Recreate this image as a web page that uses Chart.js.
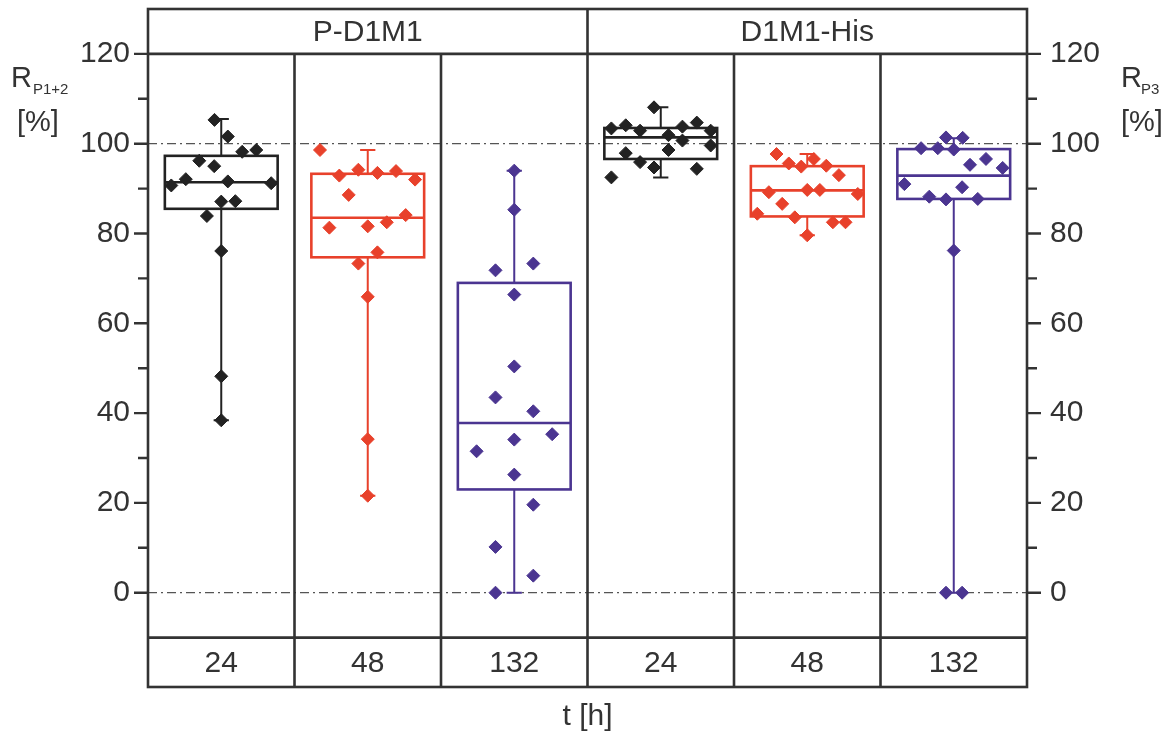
<!DOCTYPE html>
<html lang="en">
<head>
    <meta charset="UTF-8" />
    <title>Recovery box plots</title>
    <script src="https://cdn.jsdelivr.net/npm/chart.js@4.4.1/dist/chart.umd.min.js"></script>
    <style>
        body { margin: 0; background: #fff; }
        #wrap { width: 1174px; height: 738px; position: relative; }
    </style>
</head>
<body>
    <div id="wrap"><canvas id="chart"></canvas></div>

    <script>
        // === Data ===
        const groups = ["P-D1M1", "D1M1-His"];
        const categories = ["24", "48", "132", "24", "48", "132"];
        const yTicks = [0, 10, 20, 30, 40, 50, 60, 70, 80, 90, 100, 110, 120];

        // box statistics per column
        const whiskLo = [38.4, 21.6, 0, 92.5, 79.6, 0];
        const q1 = [85.5, 74.7, 23.0, 96.6, 83.8, 87.7];
        const median = [91.4, 83.5, 37.8, 101.4, 89.6, 92.9];
        const q3 = [97.3, 93.3, 69.0, 103.5, 95.0, 98.8];
        const whiskHi = [105.5, 98.6, 94.0, 108.1, 97.7, 101.2];

        // single measurements (y) and their horizontal jitter (x offset within column)
        const pd24 = [105.3, 101.6, 98.2, 98.6, 96.2, 95.0, 92.1, 90.7, 91.6, 91.2, 87.1, 87.2, 83.9, 76.1, 48.2, 38.4];
        const pd24j = [-0.046, 0.045, 0.143, 0.239, -0.150, -0.048, -0.242, -0.341, 0.045, 0.341, 0, 0.096, -0.098, 0, 0, 0];
        const pd48 = [98.6, 92.9, 94.2, 93.5, 93.9, 92.0, 88.6, 81.3, 81.6, 82.5, 84.1, 75.8, 73.3, 65.9, 34.2, 21.6];
        const pd48j = [-0.326, -0.194, -0.064, 0.066, 0.193, 0.323, -0.130, -0.262, 0, 0.130, 0.259, 0.066, -0.064, 0, 0, 0];
        const pd132 = [94.0, 85.3, 71.8, 73.3, 66.4, 50.4, 43.5, 40.4, 35.3, 34.1, 31.5, 26.3, 19.6, 10.2, 3.8, 0];
        const pd132j = [0, 0, -0.128, 0.130, 0, 0, -0.128, 0.130, 0.259, 0, -0.257, 0, 0.130, -0.128, 0.130, -0.128];
        const dh24 = [103.4, 104.1, 102.9, 108.1, 103.8, 104.7, 102.9, 101.9, 100.7, 99.6, 97.9, 98.6, 95.9, 94.7, 94.4, 92.5];
        const dh24j = [-0.337, -0.239, -0.141, -0.046, 0.148, 0.246, 0.341, 0.053, 0.148, 0.341, -0.239, 0.053, -0.141, -0.046, 0.246, -0.337];
        const dh48 = [97.7, 96.6, 95.6, 94.9, 95.1, 93.0, 89.2, 89.7, 89.7, 88.8, 86.6, 84.4, 83.6, 82.5, 82.5, 79.6];
        const dh48j = [-0.210, 0.045, -0.126, -0.041, 0.130, 0.216, -0.262, 0, 0.086, 0.345, -0.171, -0.341, -0.085, 0.175, 0.261, 0];
        const dh132 = [101.4, 101.3, 99.0, 99.0, 98.7, 96.6, 95.3, 94.6, 91.0, 90.3, 88.2, 87.6, 87.7, 76.2, 0, 0];
        const dh132j = [-0.053, 0.061, -0.223, -0.109, 0, 0.220, 0.111, 0.334, -0.337, 0.057, -0.167, -0.053, 0.164, 0, -0.053, 0.057];

        const series = [[pd24, pd24j], [pd48, pd48j], [pd132, pd132j], [dh24, dh24j], [dh48, dh48j], [dh132, dh132j]];
        const colors = ["#222222", "#e8412b", "#4b3591", "#222222", "#e8412b", "#4b3591"];

        const FONT = "'Liberation Sans', Arial, Helvetica, sans-serif";
        const INK = "#333333";

        // === Box plot + frame drawing ===
        const boxPlugin = {
            id: "boxes",
            beforeDatasetsDraw(chart) {
                const { ctx, chartArea: a, scales: { x, y } } = chart;
                ctx.save();
                // reference lines at 0 and 100
                ctx.strokeStyle = "#555";
                ctx.lineWidth = 1.3;
                ctx.setLineDash([9, 4, 2, 4]);
                [0, 100].forEach((v) => {
                    const py = y.getPixelForValue(v);
                    ctx.beginPath();
                    ctx.moveTo(a.left, py);
                    ctx.lineTo(a.right, py);
                    ctx.stroke();
                });
                ctx.setLineDash([]);

                categories.forEach((c, i) => {
                    const cx = x.getPixelForValue(i + 0.5);
                    const xl = x.getPixelForValue(i + 0.5 - 0.385);
                    const xr = x.getPixelForValue(i + 0.5 + 0.385);
                    const cap = x.getPixelForValue(i + 0.5 + 0.052) - cx;
                    ctx.strokeStyle = colors[i];
                    ctx.lineWidth = 2;
                    const pLo = y.getPixelForValue(whiskLo[i]);
                    const pHi = y.getPixelForValue(whiskHi[i]);
                    const p1 = y.getPixelForValue(q1[i]);
                    const p3 = y.getPixelForValue(q3[i]);
                    const pm = y.getPixelForValue(median[i]);
                    ctx.beginPath();
                    ctx.moveTo(cx, pHi); ctx.lineTo(cx, p3);
                    ctx.moveTo(cx, p1); ctx.lineTo(cx, pLo);
                    ctx.moveTo(cx - cap, pHi); ctx.lineTo(cx + cap, pHi);
                    ctx.moveTo(cx - cap, pLo); ctx.lineTo(cx + cap, pLo);
                    ctx.stroke();
                    ctx.lineWidth = 2.6;
                    ctx.strokeRect(xl, p3, xr - xl, p1 - p3);
                    ctx.beginPath();
                    ctx.moveTo(xl, pm); ctx.lineTo(xr, pm);
                    ctx.stroke();
                });
                ctx.restore();
            },
            afterDraw(chart) {
                const { ctx, chartArea: a, scales: { x, y } } = chart;
                ctx.save();
                ctx.strokeStyle = INK;
                ctx.lineWidth = 2.6;
                const yTop = y.getPixelForValue(120);
                const yBot = y.getPixelForValue(-10);
                ctx.strokeRect(a.left, a.top, a.right - a.left, a.bottom - a.top);
                ctx.beginPath();
                ctx.moveTo(a.left, yTop); ctx.lineTo(a.right, yTop);
                ctx.moveTo(a.left, yBot); ctx.lineTo(a.right, yBot);
                for (let k = 1; k < categories.length; k++) {
                    const px = x.getPixelForValue(k);
                    ctx.moveTo(px, k === 3 ? a.top : yTop);
                    ctx.lineTo(px, a.bottom);
                }
                ctx.stroke();

                // tick marks, major every 20 and minor every 10, on both sides
                ctx.lineWidth = 2.4;
                ctx.beginPath();
                yTicks.forEach((v) => {
                    const py = y.getPixelForValue(v);
                    const len = v % 20 === 0 ? 14 : 10;
                    ctx.moveTo(a.left - len, py); ctx.lineTo(a.left, py);
                    ctx.moveTo(a.right, py); ctx.lineTo(a.right + len, py);
                });
                ctx.stroke();

                // group headers and category labels
                ctx.fillStyle = INK;
                ctx.textAlign = "center";
                ctx.textBaseline = "middle";
                ctx.font = "30px " + FONT;
                const yHead = (a.top + yTop) / 2 + 1;
                ctx.fillText(groups[0], x.getPixelForValue(1.5), yHead);
                ctx.fillText(groups[1], x.getPixelForValue(4.5), yHead);
                const yCat = (yBot + a.bottom) / 2 + 1;
                categories.forEach((c, i) => ctx.fillText(c, x.getPixelForValue(i + 0.5), yCat));
                ctx.fillText("t [h]", x.getPixelForValue(3), 717);

                // axis titles
                ctx.textAlign = "left";
                ctx.textBaseline = "alphabetic";
                ctx.font = "29px " + FONT;
                ctx.fillText("R", 11, 87);
                ctx.fillText("[%]", 17, 131);
                ctx.fillText("R", 1121, 87);
                ctx.fillText("[%]", 1121, 131);
                ctx.font = "15px " + FONT;
                ctx.fillText("P1+2", 33, 94);
                ctx.fillText("P3", 1141, 94);
                ctx.restore();
            }
        };

        // === Chart ===
        const datasets = series.map(([vals, jit], i) => ({
            data: vals.map((v, k) => ({ x: i + 0.5 + jit[k], y: v })),
            backgroundColor: colors[i],
            borderColor: colors[i],
            borderWidth: 1,
            pointStyle: "rectRot",
            pointRadius: 6.5,
            pointHoverRadius: 6.5
        }));

        const yAxis = (pos, width, pad) => ({
            type: "linear",
            position: pos,
            min: -21,
            max: 130,
            afterBuildTicks: (s) => { s.ticks = yTicks.map((v) => ({ value: v })); },
            afterFit: (s) => {
                s.width = width;
                // labels sit well inside the range, no extra room needed above/below
                s.paddingTop = 0;
                s.paddingBottom = 0;
            },
            ticks: {
                autoSkip: false,
                padding: pad,
                color: INK,
                font: { size: 30, family: FONT },
                callback: (v) => (v % 20 === 0 ? v : "")
            },
            grid: { display: false, drawTicks: false },
            border: { display: false }
        });

        new Chart(document.getElementById("chart"), {
            type: "scatter",
            data: { datasets },
            options: {
                responsive: true,
                maintainAspectRatio: false,
                animation: false,
                layout: { padding: { top: 9, bottom: 51, left: 0, right: 0 } },
                scales: {
                    x: { type: "linear", min: 0, max: 6, display: false },
                    y: yAxis("left", 148, 18),
                    y2: yAxis("right", 147, 23)
                },
                plugins: { legend: { display: false }, tooltip: { enabled: false } }
            },
            plugins: [boxPlugin]
        });
    </script>
</body>
</html>
